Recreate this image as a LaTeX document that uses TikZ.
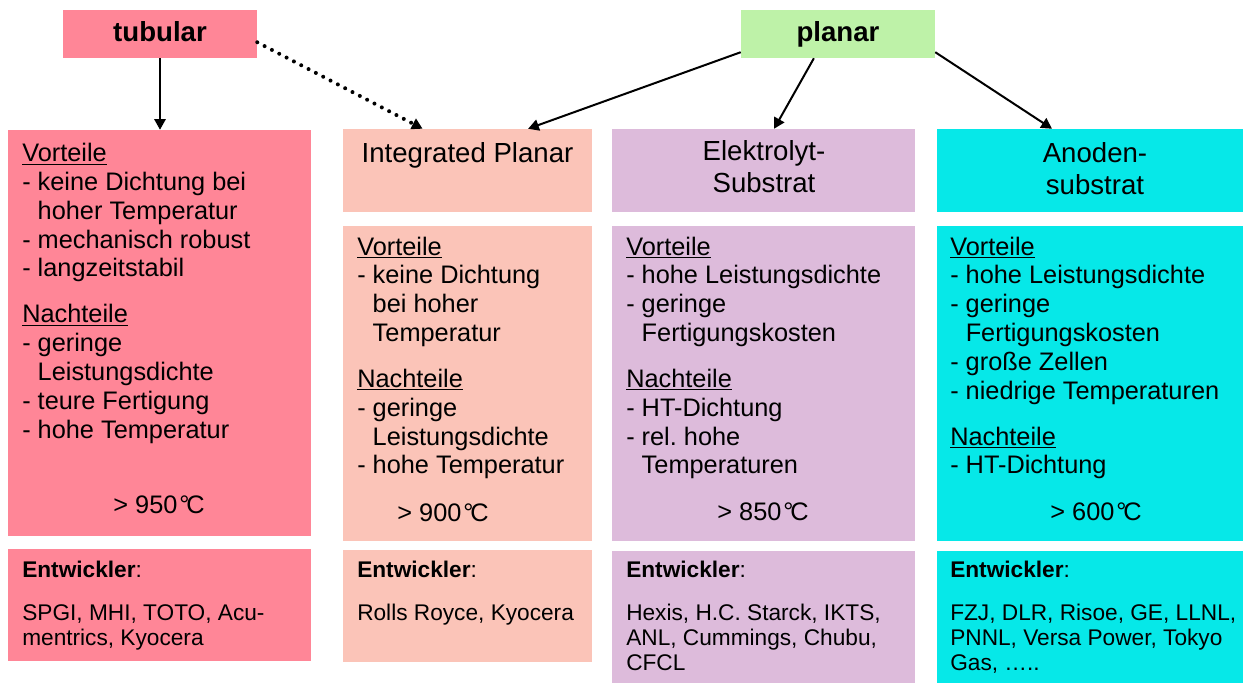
\documentclass[tikz,border=0pt]{standalone}
\usepackage{fontspec}
\setmainfont{Liberation Sans}
\usetikzlibrary{arrows.meta,fit,calc}

\definecolor{tubpink}{HTML}{FF8697}
\definecolor{planargreen}{HTML}{BEF2A8}
\definecolor{ippeach}{HTML}{FBC4B8}
\definecolor{ellilac}{HTML}{DDBBDB}
\definecolor{ancyan}{HTML}{06E8E8}

\newcommand{\bodyfnt}{\fontsize{19}{21.6}\selectfont}
\newcommand{\headfnt}{\fontsize{20.7}{24}\selectfont}
\newcommand{\devfnt}{\fontsize{17}{18.75}\selectfont}
\newcommand{\titlefnt}{\fontsize{20.7}{24}\selectfont\bfseries}
\newcommand{\contind}{\phantom{- }}
\newcommand{\lines}[1]{\begin{tabular}[t]{@{}l@{}}#1\end{tabular}}
\newcommand{\clines}[1]{\begin{tabular}[t]{@{}c@{}}#1\end{tabular}}
\newcommand{\degC}[1]{> #1\kern1.5pt°\kern-2.5pt C}
\frenchspacing

\begin{document}
\begin{tikzpicture}[x=0.75pt, y=-0.75pt,
  panel/.style={rectangle, inner sep=0pt, draw=none},
  title/.style={inner sep=0pt, font=\titlefnt},
  body/.style={inner sep=0pt, anchor=base west, font=\bodyfnt},
  head/.style={inner sep=0pt, anchor=base, font=\headfnt},
  dev/.style={inner sep=0pt, anchor=base west, font=\devfnt},
  temp/.style={inner sep=0pt, anchor=base, font=\bodyfnt},
  link/.style={line width=1.5pt, -{Triangle[length=8pt, width=8.5pt]}},
  dotlink/.style={line width=3pt, line cap=round, dash pattern=on 0pt off 6.2pt,
                  -{Triangle[length=8pt, width=8.5pt]}}]

\useasboundingbox (0,0) rectangle (1243,683);

% top-level categories
\node[panel, fill=tubpink, fit={(63,10) (257,58)}] (tubular) {};
\node[panel, fill=planargreen, fit={(741,10) (935,58)}] (planar) {};
\node[title, anchor=base] (tubulart) at (160,41.5) {tubular};
\node[title, anchor=base] (planart) at (838,41.5) {planar};

% column panels
\node[panel, fill=tubpink, fit={(8,130) (311,536)}] (tA) {};
\node[panel, fill=tubpink, fit={(8,549) (311,661)}] (tE) {};

\node[panel, fill=ippeach, fit={(343,129) (592,212)}] (ipH) {};
\node[panel, fill=ippeach, fit={(343,226) (592,541)}] (ipA) {};
\node[panel, fill=ippeach, fit={(343,550) (592,662)}] (ipE) {};

\node[panel, fill=ellilac, fit={(612,129) (915,212)}] (elH) {};
\node[panel, fill=ellilac, fit={(612,226) (915,541)}] (elA) {};
\node[panel, fill=ellilac, fit={(612,551) (915,683)}] (elE) {};

\node[panel, fill=ancyan, fit={(937,129) (1243,212)}] (anH) {};
\node[panel, fill=ancyan, fit={(937,226) (1243,541)}] (anA) {};
\node[panel, fill=ancyan, fit={(937,551) (1243,683)}] (anE) {};

% headers
\node[head] (ipHt) at (467.5,162) {\clines{Integrated Planar}};
\node[head] (elHt) at (764,160) {\clines{Elektrolyt-\\Substrat}};
\node[head] (anHt) at (1095,162) {\clines{Anoden-\\substrat}};

% advantages / disadvantages
\node[body] (tAt) at (22,161.7) {\lines{%
  \underline{Vorteile}\\
  - keine Dichtung bei\\
  \contind hoher Temperatur\\
  - mechanisch robust\\
  - langzeitstabil\\[12.9pt]
  \underline{Nachteile}\\
  - geringe\\
  \contind Leistungsdichte\\
  - teure Fertigung\\
  - hohe Temperatur}};

\node[body] (ipAt) at (357,255) {\lines{%
  \underline{Vorteile}\\
  - keine Dichtung\\
  \contind bei hoher\\
  \contind Temperatur\\[12.9pt]
  \underline{Nachteile}\\
  - geringe\\
  \contind Leistungsdichte\\
  - hohe Temperatur}};

\node[body] (elAt) at (626,255) {\lines{%
  \underline{Vorteile}\\
  - hohe Leistungsdichte\\
  - geringe\\
  \contind Fertigungskosten\\[12.9pt]
  \underline{Nachteile}\\
  - HT-Dichtung\\
  - rel. hohe\\
  \contind Temperaturen}};

\node[body] (anAt) at (950,255) {\lines{%
  \underline{Vorteile}\\
  - hohe Leistungsdichte\\
  - geringe\\
  \contind Fertigungskosten\\
  - große Zellen\\
  - niedrige Temperaturen\\[12.9pt]
  \underline{Nachteile}\\
  - HT-Dichtung}};

% operating temperatures
\node[temp] (tAT) at (159,513) {\degC{950}};
\node[temp] (ipAT) at (443,521) {\degC{900}};
\node[temp] (elAT) at (763,520) {\degC{850}};
\node[temp] (anAT) at (1096,520) {\degC{600}};

% developers
\node[dev] (tEt) at (22,577) {\lines{%
  \textbf{Entwickler}:\\[13.5pt]
  SPGI, MHI, TOTO, Acu-\\
  mentrics, Kyocera}};
\node[dev] (ipEt) at (357,577) {\lines{%
  \textbf{Entwickler}:\\[13.5pt]
  Rolls Royce, Kyocera}};
\node[dev] (elEt) at (626,577) {\lines{%
  \textbf{Entwickler}:\\[13.5pt]
  Hexis, H.C. Starck, IKTS,\\
  ANL, Cummings, Chubu,\\
  CFCL}};
\node[dev] (anEt) at (950,577) {\lines{%
  \textbf{Entwickler}:\\[13.5pt]
  FZJ, DLR, Risoe, GE, LLNL,\\
  PNNL, Versa Power, Tokyo\\
  Gas, …..}};

% connectors
\draw[link] (tubular.south) -- (tubular.south |- tA.north);
\draw[dotlink] ($(tubular.north east)!0.67!(tubular.south east)$)
  -- ($(ipH.north west)!0.32!(ipH.north east)$);
\draw[link] ($(planar.north west)!0.875!(planar.south west)$)
  -- ($(ipH.north west)!0.743!(ipH.north east)$);
\draw[link] ($(planar.south west)!0.376!(planar.south east)$)
  -- ($(elH.north west)!0.535!(elH.north east)$);
\draw[link] ($(planar.north east)!0.875!(planar.south east)$)
  -- ($(anH.north west)!0.376!(anH.north east)$);

\end{tikzpicture}
\end{document}
